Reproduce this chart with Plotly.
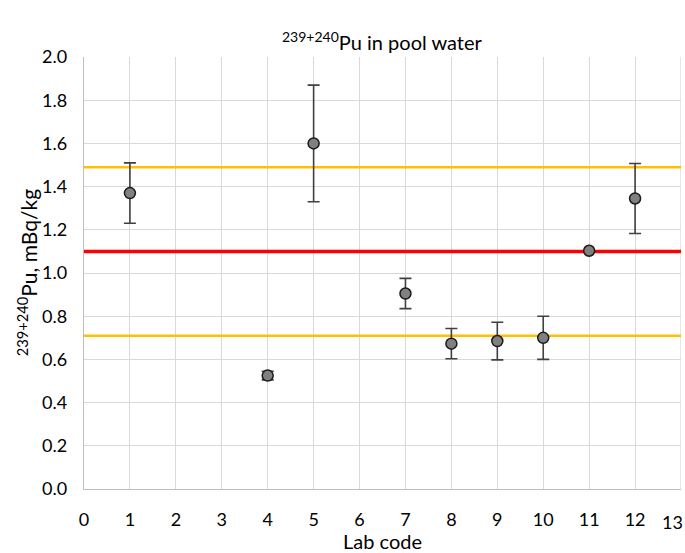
import plotly.graph_objects as go

lab = [1, 4, 5, 7, 8, 9, 10, 11, 12]
value = [1.37, 0.525, 1.60, 0.905, 0.673, 0.685, 0.70, 1.103, 1.345]
unc = [0.14, 0.02, 0.27, 0.07, 0.07, 0.087, 0.10, 0.0, 0.162]
ref_value = 1.10
ref_low = 0.71
ref_high = 1.49
x_range = [0, 13]
x_ticks = list(range(0, 14))

font = "Lato"
fig = go.Figure()
fig.add_trace(go.Scatter(x=x_range, y=[ref_high] * 2, mode="lines",
                         line=dict(color="#FFC000", width=2.5), hoverinfo="skip"))
fig.add_trace(go.Scatter(x=x_range, y=[ref_low] * 2, mode="lines",
                         line=dict(color="#FFC000", width=2.5), hoverinfo="skip"))
fig.add_trace(go.Scatter(x=x_range, y=[ref_value] * 2, mode="lines",
                         line=dict(color="#FF0000", width=3.5), hoverinfo="skip"))
fig.add_trace(go.Scatter(
    x=lab, y=value, mode="markers",
    marker=dict(size=11, color="#808080", line=dict(color="#1a1a1a", width=1.5)),
    error_y=dict(type="data", array=unc, visible=True, color="#404040",
                 thickness=1.6, width=6),
))
fig.update_layout(
    width=685, height=553,
    margin=dict(l=84, r=4, t=57, b=64, autoexpand=False),
    plot_bgcolor="white", paper_bgcolor="white",
    showlegend=False,
    font=dict(family=font, size=18, color="#000000"),
    xaxis=dict(range=x_range, tickvals=x_ticks[:-1], ticktext=[str(t) for t in x_ticks[:-1]],
               showgrid=True, gridcolor="#d9d9d9",
               gridwidth=1.3, showline=True, linecolor="#bfbfbf", linewidth=1.3,
               zeroline=False, ticks="outside", ticklen=14, tickcolor="white",
               automargin=False,
               title=dict(text="Lab code", font=dict(size=20), standoff=4)),
    yaxis=dict(range=[0, 2.0], dtick=0.2, tickformat=".1f", showgrid=True,
               gridcolor="#d9d9d9", gridwidth=1.3, showline=True, linecolor="#bfbfbf",
               linewidth=1.3, zeroline=False, ticks="outside", ticklen=12,
               tickcolor="white", automargin=False),
    annotations=[
        dict(text="<sup>239+240</sup>Pu in pool water", xref="paper", yref="paper",
             x=0.5, y=1, xanchor="center", yanchor="middle", yshift=16,
             showarrow=False, font=dict(size=20)),
        dict(text="<sup>239+240</sup>Pu, mBq/kg", textangle=-90, xref="paper", yref="paper",
             x=-0.095, y=0.5, xanchor="center", yanchor="middle", showarrow=False,
             font=dict(size=21)),
        dict(text=str(x_ticks[-1]), xref="x", yref="paper", x=x_ticks[-1], y=0,
             xanchor="right", yanchor="top", xshift=4, yshift=-20, showarrow=False,
             font=dict(size=18)),
    ],
)
fig.add_shape(type="line", xref="x", yref="paper", x0=13, x1=13, y0=0, y1=1,
              line=dict(color="#d9d9d9", width=1.3), layer="below")
fig.write_html("out.html", config={"displayModeBar": False},
               post_script="document.body.style.margin='0';")
